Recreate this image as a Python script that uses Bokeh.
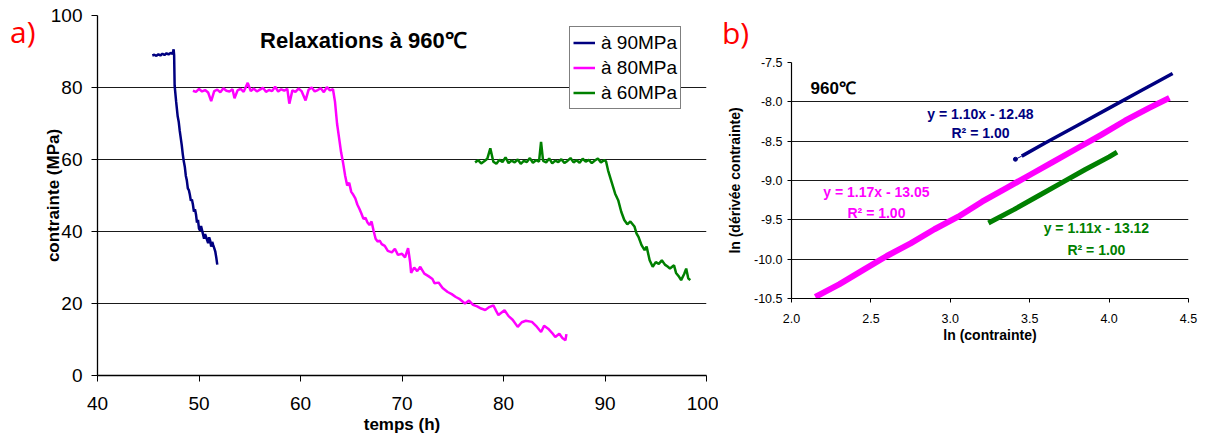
from bokeh.plotting import figure
from bokeh.layouts import row, column
from bokeh.models import FixedTicker, Label, PrintfTickFormatter, Legend, LegendItem, Div
from bokeh.embed import file_html
from bokeh.resources import INLINE

# ---------------- data panel a ----------------
t90 = [45.4, 45.6, 45.8, 46.0, 46.2, 46.4, 46.6, 46.8, 47.0, 47.2, 47.4, 47.5, 47.55,
       47.6, 47.75, 47.9, 48.0, 48.1, 48.2, 48.3, 48.4, 48.5, 48.6, 48.7, 48.8, 48.9,
       49.0, 49.1, 49.2, 49.3, 49.4, 49.5, 49.6, 49.7, 49.8, 49.9, 50.0, 50.1, 50.2,
       50.4, 50.5, 50.6, 50.8, 50.9, 51.0, 51.1, 51.2, 51.3, 51.4, 51.5, 51.6, 51.7, 51.8]
v90 = [88.9, 89.1, 88.8, 89.2, 88.9, 89.4, 89.0, 89.5, 89.2, 89.6, 89.3, 90.6, 89.0,
       80.5, 76.0, 72.0, 70.5, 68.0, 66.0, 64.0, 61.5, 59.5, 58.0, 55.5, 54.2, 52.0,
       51.5, 50.2, 48.5, 48.9, 47.5, 45.5, 46.2, 44.8, 42.5, 43.2, 40.8, 40.3, 41.5,
       39.2, 38.0, 39.3, 37.6, 36.8, 38.4, 37.5, 35.8, 37.1, 36.2, 35.4, 34.5, 32.8, 30.8]

t80 = [49.4, 49.7, 50.0, 50.3, 50.6, 50.9, 51.2, 51.5, 51.8, 52.1, 52.4, 52.7, 53.0,
       53.3, 53.5, 53.8, 54.1, 54.4, 54.8, 55.1, 55.4, 55.7, 56.0, 56.3, 56.6, 56.9,
       57.2, 57.5, 57.8, 58.1, 58.4, 58.7, 58.9, 59.2, 59.5, 59.8, 60.1, 60.5, 60.8,
       61.1, 61.4, 61.7, 62.0, 62.3, 62.6, 62.9, 63.2,
       63.4, 63.6, 63.8, 64.0, 64.2, 64.4, 64.6, 64.8, 65.0, 65.2, 65.4, 65.6, 65.8,
       66.0, 66.2, 66.4, 66.6, 66.8, 67.0, 67.2, 67.4, 67.6, 67.8, 68.0, 68.3, 68.6,
       69.0, 69.3, 69.6, 70.0, 70.3, 70.6, 70.8, 70.9, 71.2, 71.5, 71.8, 72.2, 72.6,
       73.0, 73.2, 73.6, 74.0, 74.5, 74.9, 75.3, 75.7, 76.2, 76.6, 77.0, 77.4, 77.8,
       78.2, 78.6, 79.0, 79.3, 79.5, 80.1, 80.5, 80.9, 81.4, 81.8, 82.2, 82.8, 83.2,
       83.7, 84.0, 84.4, 84.8, 85.1, 85.5, 85.8, 86.1, 86.2]
v80 = [79.1, 78.8, 79.6, 78.9, 79.3, 78.6, 76.2, 79.0, 79.4, 78.7, 79.8, 79.1, 78.9,
       79.5, 77.0, 79.2, 79.6, 78.8, 81.3, 79.0, 79.7, 78.9, 79.4, 79.9, 78.8, 79.3,
       79.0, 80.2, 78.9, 79.5, 79.1, 79.6, 75.5, 79.2, 78.8, 79.7, 79.0, 76.4, 79.4,
       80.0, 78.9, 79.3, 79.8, 78.7, 80.1, 79.2, 79.5,
       76.0, 70.0, 66.0, 62.0, 59.0, 55.5, 52.8, 53.5, 51.0, 50.2, 49.2, 47.5, 46.3,
       45.0, 43.5, 43.8, 42.5, 41.8, 42.8, 40.2, 38.0, 37.2, 37.5, 36.5, 36.0, 34.6,
       34.2, 35.2, 33.5, 33.8, 32.8, 35.4, 31.5, 28.5, 30.0, 29.0, 30.2, 28.3, 27.6,
       26.8, 25.6, 25.8, 24.3, 23.2, 22.6, 21.8, 21.2, 20.0, 20.8, 19.6, 19.2, 18.6,
       18.2, 19.0, 19.5, 17.8, 16.8, 18.1, 16.5, 15.5, 13.5, 14.8, 15.2, 14.9, 13.8,
       12.1, 13.8, 13.0, 11.8, 10.7, 11.6, 10.4, 9.8, 11.5]

t60 = [77.2, 77.5, 77.8, 78.1, 78.4, 78.7, 79.0, 79.3, 79.6, 79.9, 80.2, 80.5, 80.8,
       81.1, 81.4, 81.7, 82.0, 82.3, 82.6, 82.9, 83.2, 83.5, 83.7, 83.9, 84.2, 84.5,
       84.8, 85.1, 85.4, 85.7, 86.0, 86.3, 86.6, 86.9, 87.2, 87.5, 87.8, 88.1, 88.4,
       88.7, 89.0, 89.3, 89.6, 89.9, 90.1,
       90.3, 90.6, 91.0, 91.3, 91.6, 91.9, 92.2, 92.5, 92.9, 93.1, 93.3, 93.6, 93.9,
       94.1, 94.4, 94.7, 95.0, 95.3, 95.6, 95.9, 96.2, 96.4, 96.8, 97.0, 97.3, 97.5,
       97.8, 98.0, 98.2, 98.4]
v60 = [59.2, 59.8, 58.9, 59.5, 60.2, 63.1, 59.4, 58.8, 59.9, 59.3, 60.6, 59.0, 59.7,
       59.2, 60.0, 58.8, 59.6, 59.3, 60.4, 59.1, 59.8, 59.4, 64.9, 59.6, 59.2, 60.3,
       58.9, 59.7, 59.3, 60.1, 59.0, 59.6, 60.4, 59.2, 59.8, 59.1, 60.2, 59.4, 59.9,
       59.0, 59.7, 60.3, 59.2, 59.8, 59.5,
       57.0, 54.2, 50.5, 48.7, 45.5, 43.2, 42.0, 42.8, 41.4, 39.5, 38.5, 36.2, 34.8,
       35.8, 32.0, 30.2, 31.5, 31.0, 32.0, 30.8, 30.2, 29.7, 30.6, 28.5, 27.4, 26.5,
       28.2, 29.7, 27.0, 26.5]

x_ticks_a = [40, 50, 60, 70, 80, 90, 100]
y_ticks_a = [0, 20, 40, 60, 80, 100]
series_names = ["à 90MPa", "à 80MPa", "à 60MPa"]

# ---------------- data panel b ----------------
lx90 = [3.41, 3.45, 3.6, 3.8, 4.0, 4.2, 4.4]
ly90 = [-8.73, -8.69, -8.52, -8.30, -8.08, -7.86, -7.64]
lx80 = [2.15, 2.3, 2.45, 2.6, 2.75, 2.9, 3.05, 3.2, 3.35, 3.5, 3.65, 3.8, 3.95, 4.1, 4.25, 4.38]
ly80 = [-10.48, -10.32, -10.14, -9.96, -9.80, -9.62, -9.46, -9.27, -9.10, -8.93,
        -8.76, -8.59, -8.42, -8.24, -8.08, -7.95]
lx60 = [3.24, 3.4, 3.55, 3.7, 3.85, 4.0, 4.05]
ly60 = [-9.54, -9.37, -9.20, -9.03, -8.86, -8.70, -8.64]
eq_texts = ["y = 1.10x - 12.48", "y = 1.17x - 13.05", "y = 1.11x - 13.12"]
r2_text = "R² = 1.00"
x_ticks_b = [2.0, 2.5, 3.0, 3.5, 4.0, 4.5]
y_ticks_b = [-10.5, -10.0, -9.5, -9.0, -8.5, -8.0, -7.5]

NAVY = "#000080"
MAG = "#FF00FF"
GRN = "#008000"
FONT = "Liberation Sans"

# ---------------- panel a ----------------
pa = figure(width=678, height=440, x_range=(40, 100), y_range=(0, 100),
            output_backend="svg", toolbar_location=None,
            min_border_left=56, min_border_right=12, min_border_top=15, min_border_bottom=65)
pa.outline_line_color = None
pa.xgrid.visible = False
pa.ygrid.grid_line_color = "#1a1a1a"
pa.ygrid.grid_line_width = 1
pa.xaxis.ticker = FixedTicker(ticks=x_ticks_a)
pa.yaxis.ticker = FixedTicker(ticks=y_ticks_a)
for ax in (pa.xaxis[0], pa.yaxis[0]):
    ax.axis_line_color = "black"
    ax.axis_line_width = 1.3
    ax.major_tick_line_color = "black"
    ax.major_tick_out = 6
    ax.major_tick_in = 0
    ax.minor_tick_line_color = None
    ax.major_label_text_font = FONT
    ax.major_label_text_font_size = "19px"
    ax.major_label_text_color = "black"
    ax.axis_label_text_font = FONT
    ax.axis_label_text_font_size = "17px"
    ax.axis_label_text_font_style = "bold"
    ax.axis_label_text_color = "black"
pa.xaxis.major_label_standoff = 15
pa.yaxis.major_label_standoff = 9
pa.xaxis.axis_label = "temps (h)"
pa.xaxis.axis_label_standoff = 2
pa.yaxis.axis_label = "contrainte (MPa)"
pa.yaxis.axis_label_standoff = -15

r1 = pa.line(t90, v90, line_color=NAVY, line_width=2.5)
r2 = pa.line(t80, v80, line_color=MAG, line_width=2.5)
r3 = pa.line(t60, v60, line_color=GRN, line_width=2.5)

leg = Legend(items=[LegendItem(label=series_names[0], renderers=[r1]),
                    LegendItem(label=series_names[1], renderers=[r2]),
                    LegendItem(label=series_names[2], renderers=[r3])],
             location=(472, 266), label_text_font=FONT, label_text_font_size="19px",
             label_text_color="black",
             glyph_width=22, glyph_height=25, label_height=25, spacing=0, padding=3,
             margin=0, label_standoff=6, border_line_color="black", border_line_width=1.2,
             background_fill_alpha=1)
pa.add_layout(leg)

pa.add_layout(Label(x=66.2, y=93.0, text="Relaxations à 960℃", text_align="center",
                    text_baseline="middle", text_font=FONT, text_font_size="22px",
                    text_font_style="bold", text_color="black"))

div_a = Div(text="a)", width=40, height=440, margin=0,
            styles={"color": "#FF0000", "font-size": "30px", "font-family": "Open Sans",
                    "padding-left": "10px", "padding-top": "11px", "line-height": "normal",
                    "box-sizing": "border-box"})

# ---------------- panel b ----------------
pb = figure(width=480, height=385, x_range=(2.0, 4.5), y_range=(-10.5, -7.5),
            output_backend="svg", toolbar_location=None,
            min_border_left=73, min_border_right=10, min_border_top=12, min_border_bottom=137)
pb.outline_line_color = None
pb.xgrid.visible = False
pb.ygrid.grid_line_color = "#1a1a1a"
pb.ygrid.grid_line_width = 1
pb.xaxis.ticker = FixedTicker(ticks=x_ticks_b)
pb.yaxis.ticker = FixedTicker(ticks=y_ticks_b)
for ax in (pb.xaxis[0], pb.yaxis[0]):
    ax.axis_line_color = "black"
    ax.axis_line_width = 1.2
    ax.major_tick_line_color = "black"
    ax.major_tick_out = 4
    ax.major_tick_in = 0
    ax.minor_tick_line_color = None
    ax.major_label_text_font = FONT
    ax.major_label_text_font_size = "12.5px"
    ax.major_label_text_color = "black"
    ax.formatter = PrintfTickFormatter(format="%.1f")
    ax.axis_label_text_font = FONT
    ax.axis_label_text_font_size = "14px"
    ax.axis_label_text_font_style = "bold"
    ax.axis_label_text_color = "black"
pb.xaxis.axis_label = "ln (contrainte)"
pb.yaxis.axis_label = "ln (dérivée contrainte)"
pb.xaxis.major_label_standoff = 11
pb.xaxis.axis_label_standoff = 1
pb.yaxis.major_label_standoff = 5
pb.yaxis.axis_label_standoff = 8

pb.line(lx80, ly80, line_color=MAG, line_width=6)
pb.line(lx60, ly60, line_color=GRN, line_width=5)
pb.line(lx90[1:], ly90[1:], line_color=NAVY, line_width=3.5)
pb.line(lx90[:2], ly90[:2], line_color=NAVY, line_width=1)
pb.scatter(lx90[:1], ly90[:1], size=4, color=NAVY)

eq_pos = [(3.19, -8.15, -8.40, NAVY), (2.535, -9.15, -9.41, MAG), (3.92, -9.61, -9.88, GRN)]
for txt, (ex, ey, ry, col) in zip(eq_texts, eq_pos):
    pb.add_layout(Label(x=ex, y=ey, text=txt, text_align="center", text_baseline="middle",
                        text_font=FONT, text_font_size="14px", text_font_style="bold",
                        text_color=col))
    pb.add_layout(Label(x=ex, y=ry, text=r2_text, text_align="center", text_baseline="middle",
                        text_font=FONT, text_font_size="14px", text_font_style="bold",
                        text_color=col))
pb.add_layout(Label(x=2.12, y=-7.83, text="960℃", text_align="left", text_baseline="middle",
                    text_font=FONT, text_font_size="17px", text_font_style="bold",
                    text_color="black"))

div_b = Div(text="b)", width=480, height=50, margin=0,
            styles={"color": "#FF0000", "font-size": "30px", "font-family": "Open Sans",
                    "padding-left": "4px", "padding-top": "12px", "line-height": "normal",
                    "box-sizing": "border-box"})

layout = row(div_a, pa, column(div_b, pb, spacing=0), spacing=0)
open("out.html", "w").write(file_html(layout, INLINE))
